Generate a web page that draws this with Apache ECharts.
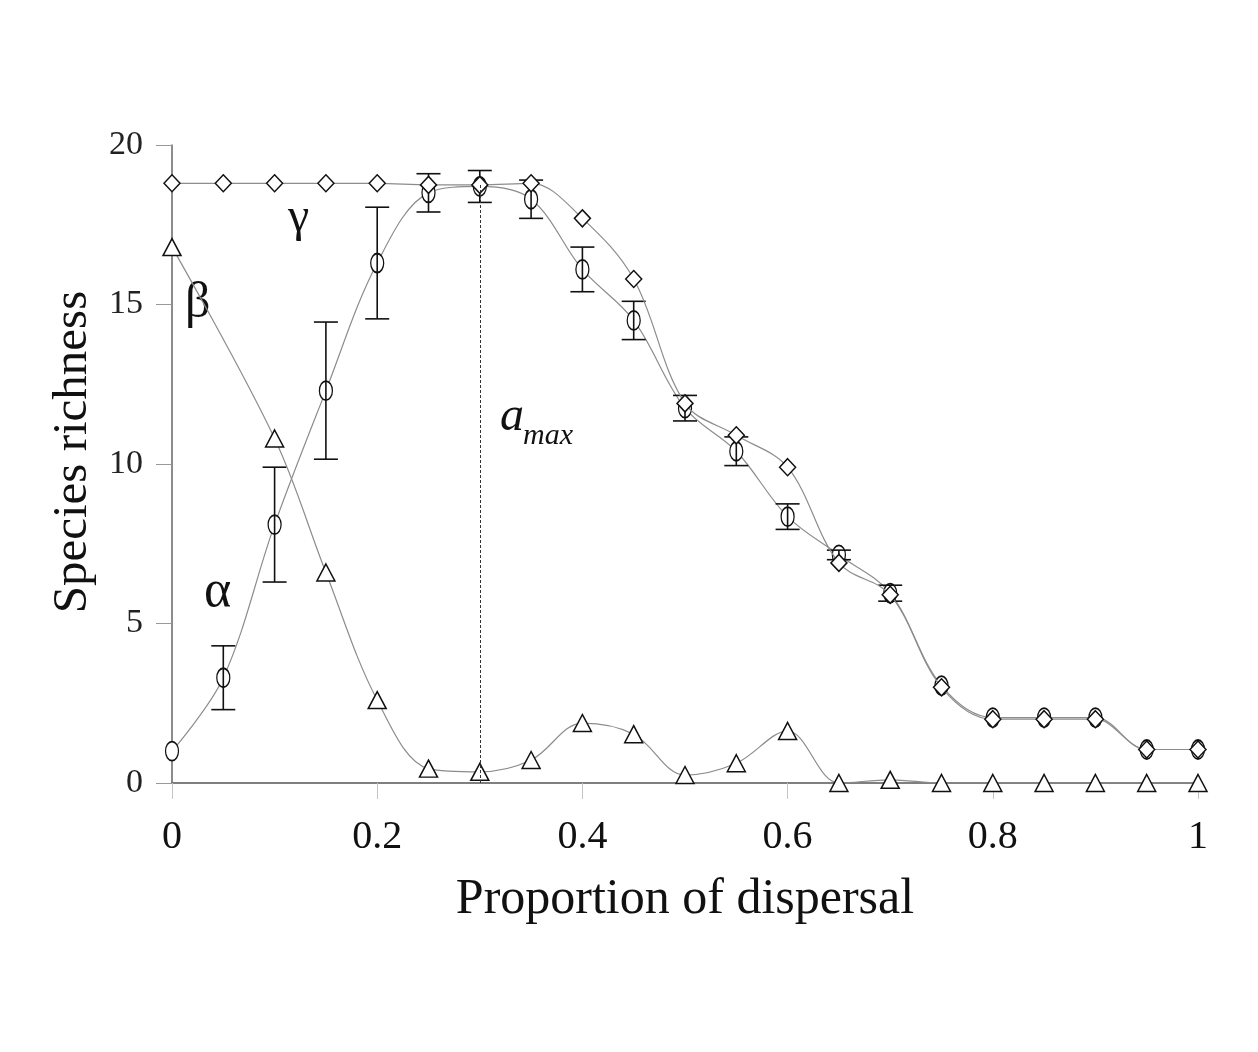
<!DOCTYPE html>
<html>
<head>
<meta charset="utf-8">
<title>Species richness vs proportion of dispersal</title>
<script src="https://cdn.jsdelivr.net/npm/echarts@6/dist/echarts.min.js"></script>
<style>
  html, body { margin: 0; padding: 0; background: #fff; }
  #chart { width: 1258px; height: 1052px; }
</style>
</head>
<body>
<div id="chart"></div>
<script>
// proportion of dispersal
const dispersal = [0, 0.05, 0.1, 0.15, 0.2, 0.25, 0.3, 0.35, 0.4, 0.45, 0.5,
  0.55, 0.6, 0.65, 0.7, 0.75, 0.8, 0.85, 0.9, 0.95, 1]

// gamma (regional) richness - diamonds
const gamma = [18.8, 18.8, 18.8, 18.8, 18.8, 18.75, 18.75, 18.8, 17.7, 15.8, 11.9,
  10.9, 9.9, 6.9, 5.9, 3.0, 2.0, 2.0, 2.0, 1.05, 1.05]

// alpha (local) richness - circles, with error
const alpha = [1.0, 3.3, 8.1, 12.3, 16.3, 18.5, 18.7, 18.3, 16.1, 14.5, 11.75,
  10.4, 8.35, 7.15, 5.95, 3.05, 2.05, 2.05, 2.05, 1.05, 1.05]
const alphaErr = [0, 1.0, 1.8, 2.15, 1.75, 0.6, 0.5, 0.6, 0.7, 0.6, 0.4,
  0.45, 0.4, 0.15, 0.25, 0, 0, 0, 0, 0, 0]

// beta richness - triangles (no point drawn at 0.05)
const beta = [16.8, null, 10.8, 6.6, 2.6, 0.45, 0.35, 0.72, 1.88, 1.53, 0.25,
  0.62, 1.63, 0, 0.1, 0, 0, 0, 0, 0, 0]

const amax = 0.3
const yTicks = [0, 20, 5]
const xTicks = [0, 1, 0.2]

const serif = '"Liberation Serif", "DejaVu Serif", serif'
const lineGrey = '#8c8c8c'

function pairs(ys) {
  const out = []
  for (let i = 0; i < dispersal.length; i++) {
    if (ys[i] !== null) out.push([dispersal[i], ys[i]])
  }
  return out
}

const errData = dispersal.map((x, i) => [x, alpha[i] - alphaErr[i], alpha[i] + alphaErr[i]])

function label(text, x, y, font) {
  return {
    type: 'text',
    x: x,
    y: y,
    style: { text: text, font: font, fill: '#111', verticalAlign: 'middle', align: 'left' }
  }
}

const chart = echarts.init(document.getElementById('chart'))

chart.setOption({
  backgroundColor: '#ffffff',
  animation: false,
  grid: {
    left: 172,
    right: 60,
    top: 145,
    bottom: 269
  },
  xAxis: {
    type: 'value',
    min: xTicks[0],
    max: xTicks[1],
    interval: xTicks[2],
    name: 'Proportion of dispersal',
    nameLocation: 'middle',
    nameGap: 92,
    nameTextStyle: {
      fontFamily: serif,
      fontSize: 50,
      color: '#111'
    },
    axisLine: {
      lineStyle: { color: '#555', width: 1.5 }
    },
    axisTick: {
      length: 16,
      lineStyle: { color: '#c4c4c4', width: 1 }
    },
    axisLabel: {
      margin: 34,
      fontFamily: serif,
      fontSize: 40,
      color: '#111',
      formatter: v => String(+v.toFixed(1))
    },
    splitLine: { show: false }
  },
  yAxis: {
    type: 'value',
    min: yTicks[0],
    max: yTicks[1],
    interval: yTicks[2],
    name: 'Species richness',
    nameLocation: 'middle',
    nameGap: 72,
    nameTextStyle: {
      fontFamily: serif,
      fontSize: 49,
      color: '#111',
      padding: [0, 0, 0, 24]
    },
    axisLine: {
      show: true,
      lineStyle: { color: '#666', width: 1.5 }
    },
    axisTick: {
      show: true,
      length: 16,
      lineStyle: { color: '#999', width: 1 }
    },
    axisLabel: {
      margin: 29,
      fontFamily: serif,
      fontSize: 34,
      color: '#222'
    },
    splitLine: { show: false }
  },
  graphic: [
    label('γ', 288, 218, '48px ' + serif),
    label('β', 185, 304, '50px ' + serif),
    label('α', 204, 592, '52px ' + serif),
    label('a', 500, 417, 'italic 48px ' + serif),
    label('max', 523, 436, 'italic 30px ' + serif)
  ],
  series: [
    {
      name: 'alpha',
      type: 'line',
      data: pairs(alpha),
      smooth: 0.35,
      z: 2,
      symbol: 'path://M0,10A6,10,0,1,1,12,10A6,10,0,1,1,0,10Z',
      symbolSize: [13, 19],
      lineStyle: { color: lineGrey, width: 1.2 },
      itemStyle: { color: '#fff', borderColor: '#111', borderWidth: 1.5 }
    },
    {
      name: 'alpha error',
      type: 'custom',
      z: 3,
      data: errData,
      renderItem: function (params, api) {
        const x = api.value(0)
        if (api.value(2) - api.value(1) <= 0) return null
        const lo = api.coord([x, api.value(1)])
        const hi = api.coord([x, api.value(2)])
        const cap = 12
        const style = { stroke: '#111', lineWidth: 1.6 }
        return {
          type: 'group',
          children: [
            { type: 'line', shape: { x1: lo[0], y1: lo[1], x2: hi[0], y2: hi[1] }, style: style },
            { type: 'line', shape: { x1: lo[0] - cap, y1: lo[1], x2: lo[0] + cap, y2: lo[1] }, style: style },
            { type: 'line', shape: { x1: hi[0] - cap, y1: hi[1], x2: hi[0] + cap, y2: hi[1] }, style: style }
          ]
        }
      }
    },
    {
      name: 'gamma',
      type: 'line',
      data: pairs(gamma),
      smooth: 0.35,
      z: 4,
      symbol: 'diamond',
      symbolSize: [16, 17],
      lineStyle: { color: lineGrey, width: 1.2 },
      itemStyle: { color: '#fff', borderColor: '#111', borderWidth: 1.5 },
      markLine: {
        silent: true,
        symbol: 'none',
        label: { show: false },
        lineStyle: { color: '#333', type: [3, 2], width: 1 },
        data: [[{ coord: [amax, 0] }, { coord: [amax, gamma[6]] }]]
      }
    },
    {
      name: 'beta',
      type: 'line',
      data: pairs(beta),
      smooth: 0.35,
      z: 4,
      symbol: 'triangle',
      symbolSize: [18, 17],
      lineStyle: { color: lineGrey, width: 1.2 },
      itemStyle: { color: '#fff', borderColor: '#111', borderWidth: 1.5 }
    }
  ]
})
</script>
</body>
</html>
